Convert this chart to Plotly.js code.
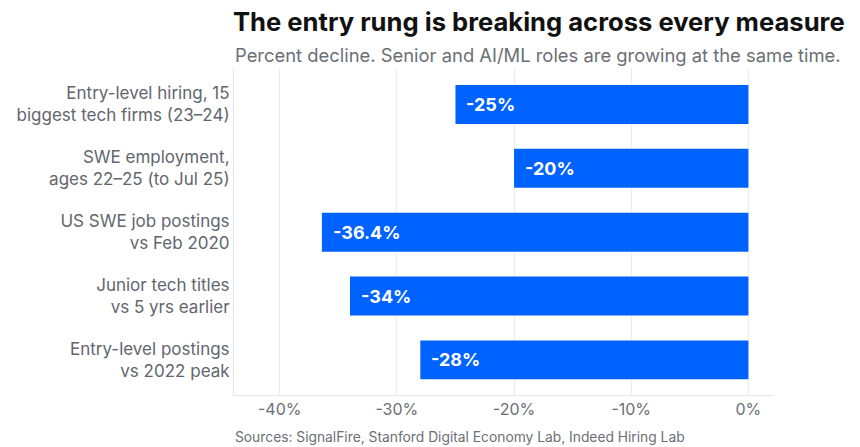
<!DOCTYPE html>
<html><head><meta charset="utf-8">
<script src="https://cdn.plot.ly/plotly-3.0.1.min.js"></script>
<style>html,body{margin:0;padding:0;background:#fff}#c{width:860px;height:447px}</style>
</head><body><div id="c"></div>
<script>
const categories = [
  "Entry-level hiring, 15<br>biggest tech firms (23–24)",
  "SWE employment,<br>ages 22–25 (to Jul 25)",
  "US SWE job postings<br>vs Feb 2020",
  "Junior tech titles<br>vs 5 yrs earlier",
  "Entry-level postings<br>vs 2022 peak"
];
const values = [-25, -20, -36.4, -34, -28];
const valueLabels = ["-25%", "-20%", "-36.4%", "-34%", "-28%"];
const xTickVals = [-40, -30, -20, -10, 0];
const xTickText = ["-40%", "-30%", "-20%", "-10%", "0%"];

const FONT = "Inter, 'Noto Sans', sans-serif";
const PLOT_TOP = 68, PLOT_BOTTOM = 395;
const ph = PLOT_BOTTOM - PLOT_TOP;
const trace = {
  type: "bar", orientation: "h",
  x: values, y: categories,
  marker: {color: "#0062FF"},
  width: 0.61,
  hoverinfo: "none"
};
const annotations = values.map((v, i) => ({
  x: v, y: categories[i], xref: "x", yref: "y",
  text: "<b>" + valueLabels[i] + "</b>", showarrow: false,
  xanchor: "left", xshift: 9,
  font: {family: FONT, size: 18, color: "#ffffff"}
}));
annotations.push({
  xref: "paper", yref: "paper", x: -0.002, y: (PLOT_BOTTOM - 55) / ph,
  xanchor: "left", yanchor: "middle", showarrow: false,
  text: "Percent decline. Senior and AI/ML roles are growing at the same time.",
  font: {family: FONT, size: 18.4, color: "#6b6f76"}
});
annotations.push({
  xref: "paper", yref: "paper", x: -0.002, y: (PLOT_BOTTOM - 437) / ph,
  xanchor: "left", yanchor: "middle", showarrow: false,
  text: "Sources: SignalFire, Stanford Digital Economy Lab, Indeed Hiring Lab",
  font: {family: FONT, size: 13.8, color: "#6b6f76"}
});
const layout = {
  width: 860, height: 447,
  margin: {l: 234, r: 87, t: PLOT_TOP, b: 447 - PLOT_BOTTOM},
  paper_bgcolor: "#fff", plot_bgcolor: "#fff",
  showlegend: false,
  title: {
    text: "<b>The entry rung is breaking across every measure</b>",
    x: 233/860, xref: "container", xanchor: "left",
    y: 1 - 22/447, yref: "container", yanchor: "middle",
    font: {family: FONT, size: 25.6, color: "#111111"}
  },
  xaxis: {
    range: [-43.9, 2.1],
    tickvals: xTickVals, ticktext: xTickText,
    showgrid: true, gridcolor: "#ececec", gridwidth: 1,
    zeroline: false,
    showline: true, linecolor: "#e3e5ec", linewidth: 1,
    ticks: "", ticklen: 0,
    tickfont: {family: FONT, size: 16, color: "#6b6f76"}
  },
  yaxis: {
    range: [4.55, -0.571],
    showgrid: false, zeroline: false,
    showline: true, linecolor: "#e3e5ec", linewidth: 1,
    ticks: "", ticklabelstandoff: 0,
    tickfont: {family: FONT, size: 17, color: "#62666d"}
  },
  annotations: annotations
};
Plotly.newPlot("c", [trace], layout, {displayModeBar: false, staticPlot: true});
</script></body></html>
